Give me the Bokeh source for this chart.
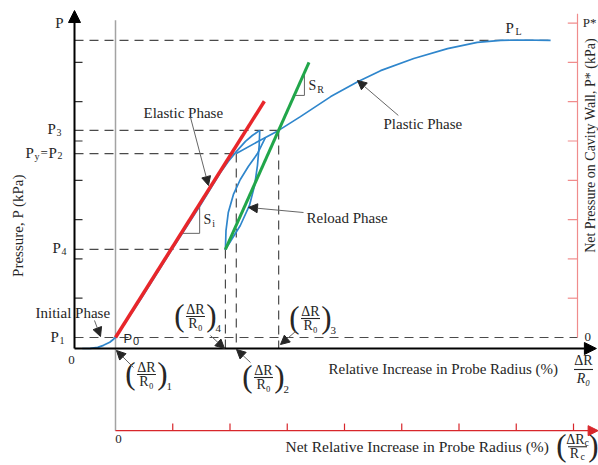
import math
from bokeh.plotting import figure
from bokeh.models import Range1d, Arrow, NormalHead
from bokeh.core.properties import value
from bokeh.embed import file_html
from bokeh.resources import INLINE

# Pressuremeter test curve.
# x: relative increase in probe radius, in units of the net-scale ticks
#    (0 at (ΔR/R0)1, where the probe meets the cavity wall)
# y: net pressure on the cavity wall, in units of the P* ticks (0 at P1)

virgin_x = [-0.58, -0.44, -0.31, -0.21, -0.10, -0.04, 0.00, 0.44, 0.96, 1.49, 1.83, 1.97, 2.11, 2.27, 2.39, 2.52]
virgin_y = [-0.28, -0.275, -0.25, -0.20, -0.12, -0.05, 0.00, 0.97, 2.18, 3.38, 4.19, 4.48, 4.73, 4.99, 5.14, 5.27]

plastic_x = [2.11, 2.48, 2.85, 3.23, 3.76, 4.23, 4.63, 5.21, 5.80, 6.32, 6.73, 7.07, 7.60]
plastic_y = [4.68, 4.98, 5.27, 5.62, 6.13, 6.51, 6.79, 7.10, 7.35, 7.51, 7.56, 7.57, 7.56]

unload_x = [2.52, 2.51, 2.48, 2.43, 2.34, 2.18, 1.92]
unload_y = [5.27, 4.89, 4.38, 3.87, 3.36, 2.85, 2.24]

reload_x = [1.92, 1.93, 1.97, 2.06, 2.18, 2.32, 2.48, 2.62]
reload_y = [2.24, 2.72, 3.18, 3.64, 4.02, 4.35, 4.68, 5.09]

elastic_x = [0.00, 2.60]
elastic_y = [0.00, 6.01]

secant_x = [1.92, 3.38]
secant_y = [2.24, 7.00]

# characteristic pressures and the radius increments they are read at
level_names = ["PL", "P3", "P2", "P4", "P1"]
level_p = [7.56, 5.27, 4.68, 2.24, 0.00]
level_end = [7.60, 2.85, 2.11, 1.92, 8.07]

strain_names = ["4", "2", "3"]
strain_x = [1.92, 2.11, 2.85]
strain_top = [2.24, 4.68, 5.27]

si_tri_x = [1.15, 1.47, 1.47]
si_tri_y = [2.65, 2.65, 3.39]
sr_tri_x = [3.12, 3.30, 3.30]
sr_tri_y = [6.16, 6.16, 6.73]

left_ticks = [1, 2, 3, 4, 5, 6, 7]
right_ticks = [1, 2, 3, 4, 5, 6, 7, 8]
bottom_ticks = [1, 2, 3, 4, 5, 6, 7, 8]

AXIS_X = -0.716      # gross-pressure axis position
AXIS_Y = -0.28       # gross-expansion axis position
NET_AXIS_Y = -2.37   # net-expansion axis position
NET_P_AXIS_X = 8.07  # net-pressure axis position

INK = "#262626"
DASH = "#4a4a4a"
BLUE = "#2f86cc"
RED = "#e8262a"
GREEN = "#21a64a"
SERIF = value("Liberation Serif")
SANS = value("Liberation Sans")

p = figure(width=598, height=465,
           x_range=Range1d(-2.0087, 8.4367), y_range=Range1d(-3.257, 8.575),
           x_axis_type=None, y_axis_type=None,
           toolbar_location=None, output_backend="svg", min_border=0)
p.outline_line_color = None
p.background_fill_color = "white"
p.border_fill_color = "white"


def label(x, y, s, size=13, align="left", baseline="middle", font=SERIF,
          color=INK, angle=0.0, dx=0, dy=0, style="normal"):
    p.text(x=[x], y=[y], text=[s], text_font=font, text_font_size=f"{size}px",
           text_align=align, text_baseline=baseline, text_color=color,
           angle=angle, x_offset=dx, y_offset=dy, text_font_style=style)


def pointer(x0, y0, x1, y1):
    p.add_layout(Arrow(end=NormalHead(size=9, fill_color=INK, line_color=INK, line_width=1),
                       x_start=x0, y_start=y0, x_end=x1, y_end=y1,
                       line_color="#666666", line_width=1))


def fraction(x, y, num, den, sub=None, parens=True, num_sub=None, den_sub=None,
             den_style="normal", gap=7, bar=19, size=14):
    label(x, y, num, size, align="center", dy=-gap, dx=(-2 if num_sub else 0))
    if num_sub:
        label(x, y, num_sub, 10, dx=7, dy=-gap + 3)
    label(x, y, den, size, align="center", dy=gap, dx=(-3 if den_sub else 0), style=den_style)
    if den_sub:
        label(x, y, den_sub, 10, dx=3, dy=gap + 3)
    p.rect(x=[x], y=[y], width=bar, height=1.1, width_units="screen",
           height_units="screen", fill_color=INK, line_color=None)
    if parens:
        label(x, y, "(", 31, align="center", dx=-16, dy=-1)
        label(x, y, ")", 31, align="center", dx=16, dy=-1)
    if sub:
        label(x, y, sub, 11, dx=20, dy=12)


# reference lines
p.segment(x0=[AXIS_X] * len(level_p), y0=level_p, x1=level_end, y1=level_p,
          line_color=DASH, line_width=1.2, line_dash="9 6")
p.segment(x0=strain_x, y0=strain_top, x1=strain_x, y1=[AXIS_Y] * len(strain_x),
          line_color=DASH, line_width=1.2, line_dash="9 6")

# net axes (origin shifted to P0)
p.segment(x0=[0], y0=[NET_AXIS_Y], x1=[0], y1=[8.07], line_color="#a3a3a3", line_width=1.5)
p.segment(x0=[NET_P_AXIS_X], y0=[0], x1=[NET_P_AXIS_X], y1=[8.24], line_color="#f08c8c", line_width=1.2)
p.segment(x0=[NET_P_AXIS_X - 0.17] * len(right_ticks), y0=right_ticks,
          x1=[NET_P_AXIS_X] * len(right_ticks), y1=right_ticks, line_color="#f08c8c", line_width=1.2)
p.add_layout(Arrow(end=NormalHead(size=10, fill_color="#d8262b", line_color="#d8262b"),
                   x_start=0, y_start=NET_AXIS_Y, x_end=8.43, y_end=NET_AXIS_Y,
                   line_color="#d8262b", line_width=1.4))
p.segment(x0=bottom_ticks, y0=[NET_AXIS_Y] * len(bottom_ticks), x1=bottom_ticks,
          y1=[NET_AXIS_Y + 0.18] * len(bottom_ticks), line_color="#d8262b", line_width=1.2)

# gross axes
p.add_layout(Arrow(end=NormalHead(size=12, fill_color="black", line_color="black"),
                   x_start=AXIS_X, y_start=AXIS_Y, x_end=AXIS_X, y_end=8.32,
                   line_color="black", line_width=2))
p.add_layout(Arrow(end=NormalHead(size=12, fill_color="black", line_color="black"),
                   x_start=AXIS_X, y_start=AXIS_Y, x_end=8.40, y_end=AXIS_Y,
                   line_color="black", line_width=2))
p.segment(x0=[AXIS_X] * len(left_ticks), y0=left_ticks, x1=[AXIS_X + 0.14] * len(left_ticks),
          y1=left_ticks, line_color="#333333", line_width=1.2)

# slope markers
p.line(si_tri_x, si_tri_y, line_color="#666666", line_width=1)
p.line(sr_tri_x, sr_tri_y, line_color="#666666", line_width=1)

# test curve
for xs, ys in [(virgin_x, virgin_y), (plastic_x, plastic_y), (unload_x, unload_y), (reload_x, reload_y)]:
    p.line(xs, ys, line_color=BLUE, line_width=1.7)
p.line(elastic_x, elastic_y, line_color=RED, line_width=3.5)
p.line(secant_x, secant_y, line_color=GREEN, line_width=3)

# pressure labels
label(-0.978, 7.99, "P", 15, align="center")
label(6.812, 7.863, "P", 15)
label(6.985, 7.786, "L", 10)
label(-1.188, 5.293, "P", 15)
label(-1.031, 5.216, "3", 10)
label(-1.572, 4.707, "P", 15)
label(-1.415, 4.606, "y", 10)
label(-1.310, 4.707, "=", 13)
label(-1.170, 4.707, "P", 15)
label(-1.013, 4.630, "2", 10)
label(-1.100, 2.265, "P", 15)
label(-0.943, 2.188, "4", 10)
label(-1.135, 0.0, "P", 15)
label(-0.978, -0.076, "1", 10)
label(0.140, -0.025, "P", 13, font=SANS)
label(0.305, -0.10, "0", 11, font=SANS)
label(-0.769, -0.585, "0", 13, align="center")
label(0.052, -2.595, "0", 13, align="center")
label(8.19, 0.025, "0", 13)
label(8.16, 8.015, "P*", 13)

# slopes
label(1.537, 3.003, "S", 14)
label(1.690, 2.901, "i", 10)
label(3.371, 6.412, "S", 14)
label(3.524, 6.310, "R", 10)

# phase annotations
label(0.489, 5.725, "Elastic Phase", 15)
pointer(1.31, 5.60, 1.624, 3.868)
label(4.681, 5.445, "Plastic Phase", 15)
pointer(4.94, 5.65, 4.227, 6.54)
label(3.336, 3.053, "Reload Phase", 15)
pointer(3.284, 3.18, 2.323, 3.31)
label(-1.397, 0.611, "Initial Phase", 15)
pointer(-0.367, 0.433, -0.262, 0.025)

# radius increments
fraction(0.541, -0.941, "ΔR", "R₀", sub="1")
pointer(0.314, -0.763, 0.017, -0.331)
fraction(2.585, -1.018, "ΔR", "R₀", sub="2")
pointer(2.358, -0.636, 2.114, -0.305)
fraction(1.397, 0.534, "ΔR", "R₀", sub="4")
pointer(1.659, 0.05, 1.904, -0.28)
fraction(3.406, 0.483, "ΔR", "R₀", sub="3")
pointer(3.144, 0.153, 2.882, -0.178)

# axis titles
label(3.72, -0.814, "Relative Increase in Probe Radius (%)", 15)
fraction(8.175, -0.814, "ΔR", "R₀", parens=False, den_style="italic", gap=9)
label(2.969, -2.774, "Net Relative Increase in Probe Radius (%)", 15.5)
fraction(8.07, -2.78, "ΔR", "R", num_sub="c", den_sub="c")
label(-1.695, 2.85, "Pressure, P (kPa)", 15, align="center", angle=math.pi / 2)
label(8.297, 4.885, "Net Pressure on Cavity Wall, P* (kPa)", 14, align="center", angle=math.pi / 2)

open("out.html", "w").write(file_html(p, INLINE))
